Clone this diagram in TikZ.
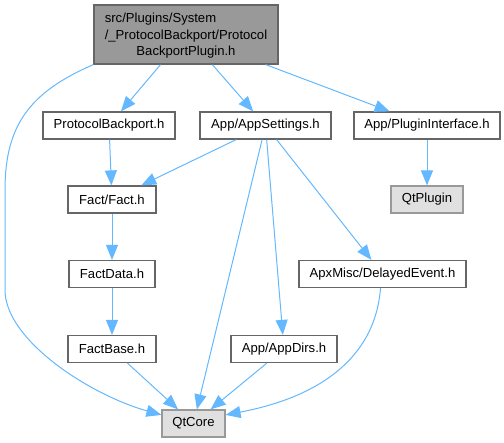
\documentclass[tikz,border=0pt]{standalone}
\usepackage{fontspec}
\setmainfont{Liberation Sans}
\usetikzlibrary{arrows.meta}

\definecolor{edgeblue}{HTML}{63B8FF}
\definecolor{boxgrey}{HTML}{666666}

\begin{document}
\begin{tikzpicture}[x=1pt,y=-1pt,
 font=\fontsize{13.1}{16.7}\selectfont,
 box/.style={draw=boxgrey,line width=1.2pt,fill=white,inner sep=0pt,minimum height=27pt},
 curbox/.style={box,fill=black!40,minimum height=59pt},
 extbox/.style={box,draw=black!40,fill=black!12},
 edge/.style={-{Triangle[length=15pt,width=12pt]},draw=edgeblue,line width=1pt}]
\useasboundingbox (0,0) rectangle (504,443);
\node[curbox,minimum width=184pt,align=center] (pbplugin) at (186.000,34.500)
 {\begin{tabular}{@{}l@{}}src/Plugins/System\\/\_ProtocolBackport/Protocol\end{tabular}\\BackportPlugin.h};
\node[box,minimum width=132pt] (pback) at (109.000,125.500) {ProtocolBackport.h};
\node[box,minimum width=131pt] (appset) at (265.500,125.500) {App/AppSettings.h};
\node[box,minimum width=146pt] (plugif) at (427.000,125.500) {App/PluginInterface.h};
\node[box,minimum width=88pt] (fact) at (112.000,199.500) {Fact/Fact.h};
\node[extbox,minimum width=72pt] (qtplugin) at (427.000,199.500) {QtPlugin};
\node[box,minimum width=86pt] (factdata) at (112.000,274.000) {FactData.h};
\node[box,minimum width=167pt] (delayed) at (382.500,274.000) {ApxMisc/DelayedEvent.h};
\node[box,minimum width=88pt] (factbase) at (112.000,349.000) {FactBase.h};
\node[box,minimum width=106pt] (appdirs) at (284.000,349.000) {App/AppDirs.h};
\node[extbox,minimum width=63pt] (qtcore) at (193.500,423.500) {QtCore};
\draw[edge] (pbplugin.south west) .. controls (30,92) and (5,125) .. (5,190)
 -- (5,290) .. controls (5,340) and (90,395) .. (qtcore.165);
\draw[edge] (pbplugin) -- (pback);
\draw[edge] (pbplugin) -- (appset);
\draw[edge] (pbplugin) -- (plugif);
\draw[edge] (pback) -- (fact);
\draw[edge] (appset) -- (fact);
\draw[edge] (appset) -- (qtcore);
\draw[edge] (appset) -- (appdirs);
\draw[edge] (appset) -- (delayed);
\draw[edge] (plugif) -- (qtplugin);
\draw[edge] (fact) -- (factdata);
\draw[edge] (factdata) -- (factbase);
\draw[edge] (factbase) -- (qtcore);
\draw[edge] (appdirs) -- (qtcore);
\draw[edge] ([xshift=-2pt]delayed.south) .. controls (376,350) and (330,395) .. (qtcore.15);
\end{tikzpicture}
\end{document}
